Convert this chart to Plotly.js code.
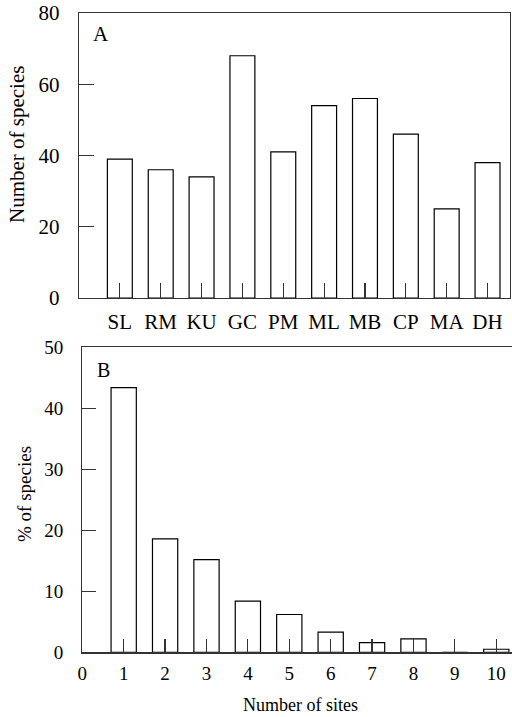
<!DOCTYPE html>
<html>
<head>
<meta charset="utf-8">
<script src="https://cdn.plot.ly/plotly-3.0.1.min.js"></script>
<style>html,body{margin:0;padding:0;background:#fff;}#chart{width:512px;height:717px;}</style>
</head>
<body>
<div id="chart"></div>
<script>
// Panel A: number of species per site
const siteCodes = ["SL", "RM", "KU", "GC", "PM", "ML", "MB", "CP", "MA", "DH"];
const speciesCounts = [39, 36, 34, 68, 41, 54, 56, 46, 25, 38];
const yTicksA = [0, 20, 40, 60, 80];

// Panel B: % of species vs number of sites occupied
const numberOfSites = [1, 2, 3, 4, 5, 6, 7, 8, 9, 10];
const percentSpecies = [43.4, 18.6, 15.2, 8.4, 6.2, 3.3, 1.6, 2.2, 0, 0.5];
const xTicksB = [0, 1, 2, 3, 4, 5, 6, 7, 8, 9, 10];
const yTicksB = [0, 10, 20, 30, 40, 50];

const FONT = '"Liberation Serif", "Times New Roman", serif';
const LINE = '#333';
const W = 512, H = 717;

const traces = [
  {
    type: 'bar', x: siteCodes, y: speciesCounts, xaxis: 'x', yaxis: 'y',
    width: 0.61,
    marker: {color: '#ffffff', line: {color: '#000', width: 1.2}},
    hoverinfo: 'x+y'
  },
  {
    type: 'bar', x: numberOfSites, y: percentSpecies, xaxis: 'x2', yaxis: 'y2',
    width: 0.61,
    marker: {color: '#ffffff', line: {color: '#000', width: 1.2}},
    hoverinfo: 'x+y'
  }
];

const axisCommon = {
  showgrid: false, zeroline: false, showline: true,
  linecolor: LINE, linewidth: 1.3,
  ticks: 'inside', tickcolor: LINE, tickwidth: 1.2,
  fixedrange: true
};

const layout = {
  width: W, height: H,
  margin: {l: 0, r: 0, t: 0, b: 0},
  paper_bgcolor: '#fff', plot_bgcolor: '#fff',
  showlegend: false,
  font: {family: FONT, color: '#000'},
  xaxis: Object.assign({}, axisCommon, {
    domain: [79 / W, 510 / W], anchor: 'y',
    type: 'category', range: [-1, 9.55],
    ticklen: 15, mirror: true,
    tickfont: {family: FONT, size: 21, color: '#000'},
    ticklabelstandoff: 4
  }),
  yaxis: Object.assign({}, axisCommon, {
    domain: [1 - 298 / H, 1 - 13 / H], anchor: 'x',
    range: [0, 80], tickvals: yTicksA,
    ticklen: 15, mirror: true,
    tickfont: {family: FONT, size: 21, color: '#000'},
    ticklabelstandoff: 14
  }),
  xaxis2: Object.assign({}, axisCommon, {
    domain: [82.3 / W, 1], anchor: 'y2',
    range: [0, 10.38], tickvals: xTicksB,
    ticklen: 13.5, mirror: true,
    tickfont: {family: FONT, size: 19, color: '#000'},
    ticklabelstandoff: 4
  }),
  yaxis2: Object.assign({}, axisCommon, {
    domain: [1 - 652.3 / H, 1 - 347.3 / H], anchor: 'x2',
    range: [0, 50], tickvals: yTicksB,
    ticklen: 14, mirror: false,
    tickfont: {family: FONT, size: 19, color: '#000'},
    ticklabelstandoff: 14
  }),
  annotations: [
    {text: 'A', xref: 'paper', yref: 'paper', x: 100.5 / W, y: 1 - 34 / H,
     xanchor: 'center', yanchor: 'middle', showarrow: false,
     font: {family: FONT, size: 21, color: '#000'}},
    {text: 'B', xref: 'paper', yref: 'paper', x: 103.5 / W, y: 1 - 370 / H,
     xanchor: 'center', yanchor: 'middle', showarrow: false,
     font: {family: FONT, size: 20, color: '#000'}},
    {text: 'Number of species', xref: 'paper', yref: 'paper', x: 17 / W, y: 1 - 145 / H,
     xanchor: 'center', yanchor: 'middle', textangle: -90, showarrow: false,
     font: {family: FONT, size: 21, color: '#000'}},
    {text: '% of species', xref: 'paper', yref: 'paper', x: 24 / W, y: 1 - 494 / H,
     xanchor: 'center', yanchor: 'middle', textangle: -90, showarrow: false,
     font: {family: FONT, size: 19, color: '#000'}},
    {text: 'Number of sites', xref: 'paper', yref: 'paper', x: 300 / W, y: 1 - 705 / H,
     xanchor: 'center', yanchor: 'middle', showarrow: false,
     font: {family: FONT, size: 18, color: '#000'}}
  ]
};

Plotly.newPlot('chart', traces, layout, {displayModeBar: false, staticPlot: true});
</script>
</body>
</html>
